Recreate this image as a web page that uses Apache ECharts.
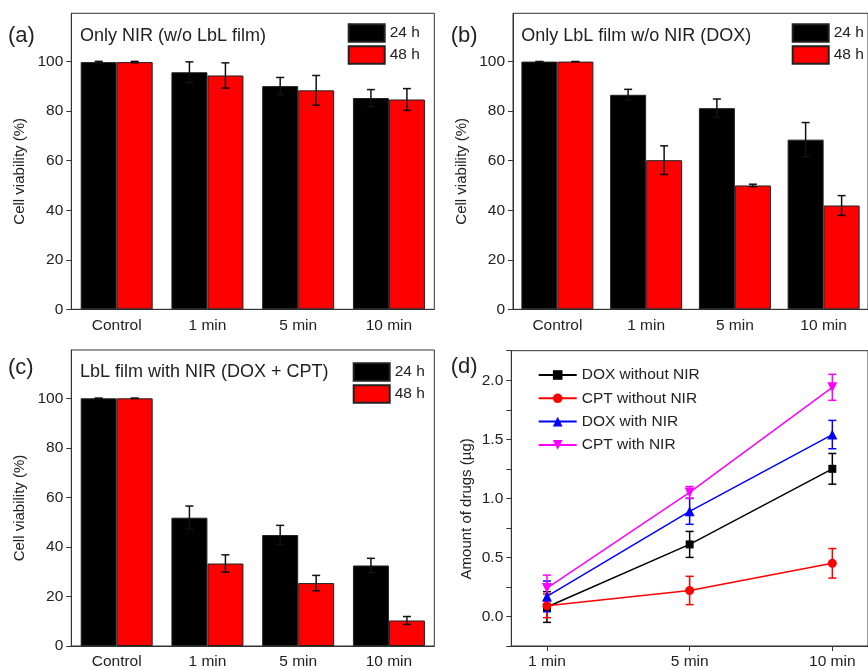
<!DOCTYPE html>
<html>
<head>
<meta charset="utf-8">
<script src="https://cdn.jsdelivr.net/npm/echarts@6/dist/echarts.min.js"></script>
<style>
  html, body { margin: 0; padding: 0; background: #fff; }
  #main { width: 868px; height: 670px; }
</style>
</head>
<body>
<div id="main"></div>
<script>
// ---- data ----
const categories = ['Control', '1 min', '5 min', '10 min'];
const yTicks = [0, 20, 40, 60, 80, 100];

// (a) only NIR
const a24 = [99.8, 95.7, 90.1, 85.3];
const a24Err = [0.3, 4.2, 3.5, 3.4];
const a48 = [99.8, 94.4, 88.4, 84.7];
const a48Err = [0.3, 5.1, 6.0, 4.4];

// (b) only LbL film
const b24 = [100, 86.6, 81.2, 68.5];
const b24Err = [0, 2.2, 3.7, 6.9];
const b48 = [100, 60.2, 50.0, 41.9];
const b48Err = [0, 5.8, 0.5, 4.0];

// (c) LbL film + NIR
const c24 = [100, 51.8, 44.8, 32.5];
const c24Err = [0, 4.7, 3.9, 2.9];
const c48 = [100, 33.3, 25.4, 10.3];
const c48Err = [0, 3.5, 3.1, 1.6];

// (d) drug release
const times = ['1 min', '5 min', '10 min'];
const doxNo = [0.08, 0.61, 1.25];
const doxNoErr = [0.13, 0.11, 0.13];
const cptNo = [0.09, 0.22, 0.45];
const cptNoErr = [0.10, 0.12, 0.125];
const doxNir = [0.17, 0.89, 1.54];
const doxNirErr = [0.13, 0.11, 0.12];
const cptNir = [0.24, 1.05, 1.94];
const cptNirErr = [0.11, 0.05, 0.11];

const FONT = "'Liberation Sans', Arial, sans-serif";
const AX = '#333';
const TXT = '#222';

let chart = echarts.init(document.getElementById('main'));

function errBar(color, offset) {
  return function (params, api) {
    let x = api.value(0), m = api.value(1), e = api.value(2);
    let hi = api.coord([x, m + e]);
    let lo = api.coord([x, m - e]);
    let cx = hi[0] + offset;
    let w = 4;
    let style = { stroke: color, lineWidth: 1.5 };
    return {
      type: 'group',
      children: [
        { type: 'line', shape: { x1: cx, y1: hi[1], x2: cx, y2: lo[1] }, style: style },
        { type: 'line', shape: { x1: cx - w, y1: hi[1], x2: cx + w, y2: hi[1] }, style: style },
        { type: 'line', shape: { x1: cx - w, y1: lo[1], x2: cx + w, y2: lo[1] }, style: style }
      ]
    };
  };
}

function triples(xs, vals, errs) {
  return vals.map((v, i) => [xs[i], v, errs[i]]);
}

function barX(gi) {
  return {
    type: 'category', gridIndex: gi, data: categories, boundaryGap: true,
    axisLine: { lineStyle: { color: AX, width: 1 } },
    axisTick: { alignWithLabel: true, length: 5, lineStyle: { color: AX } },
    axisLabel: { color: TXT, fontSize: 15.5, fontFamily: FONT, margin: 8 },
    splitLine: { show: false }
  };
}

function barY(gi) {
  return {
    type: 'value', gridIndex: gi, min: 0, max: 119.5,
    name: 'Cell viability (%)', nameLocation: 'middle', nameGap: 44,
    nameTextStyle: { color: TXT, fontSize: 15, fontFamily: FONT, padding: [0, 20, 0, 0] },
    axisLine: { show: true, lineStyle: { color: AX, width: 1 } },
    axisTick: { show: true, length: 5, lineStyle: { color: AX }, customValues: yTicks },
    axisLabel: { color: TXT, fontSize: 15.5, fontFamily: FONT, margin: 8, customValues: yTicks },
    splitLine: { show: false }
  };
}

function barSeries(gi, v24, e24, v48, e48) {
  let idx = categories.map((c, i) => i);
  return [
    { name: '24 h', type: 'bar', xAxisIndex: gi, yAxisIndex: gi, data: v24, barWidth: 36, barGap: '0%',
      itemStyle: { color: '#000', borderColor: '#222', borderWidth: 1 } },
    { name: '48 h', type: 'bar', xAxisIndex: gi, yAxisIndex: gi, data: v48, barWidth: 36, barGap: '0%',
      itemStyle: { color: '#ff0000', borderColor: '#222', borderWidth: 1 } },
    { type: 'custom', xAxisIndex: gi, yAxisIndex: gi, z: 5, renderItem: errBar('#111', -18),
      data: triples(idx, v24, e24) },
    { type: 'custom', xAxisIndex: gi, yAxisIndex: gi, z: 5, renderItem: errBar('#111', 18),
      data: triples(idx, v48, e48) }
  ];
}

function barLegend(left, top) {
  return {
    data: ['24 h', '48 h'], orient: 'vertical', left: left, top: top, padding: 0,
    itemWidth: 36, itemHeight: 17.5, itemGap: 2.5, icon: 'rect', selectedMode: false,
    textStyle: { color: TXT, fontSize: 15.5, fontFamily: FONT }
  };
}

const dX = [1, 2, 3];
const lineDefs = [
  { name: 'DOX without NIR', color: '#000000', vals: doxNo, errs: doxNoErr, symbol: 'rect', size: 8 },
  { name: 'CPT without NIR', color: '#ff0000', vals: cptNo, errs: cptNoErr, symbol: 'circle', size: 9 },
  { name: 'DOX with NIR', color: '#0000ff', vals: doxNir, errs: doxNirErr, symbol: 'triangle', size: 10 },
  { name: 'CPT with NIR', color: '#ff00ff', vals: cptNir, errs: cptNirErr, symbol: 'path://M0,0 L10,0 L5,9 Z', size: 10 }
];

let dSeries = [];
lineDefs.forEach(function (d) {
  dSeries.push({
    name: d.name, type: 'line', xAxisIndex: 3, yAxisIndex: 3,
    data: d.vals.map((v, i) => [dX[i], v]),
    symbol: d.symbol, symbolSize: d.size, showSymbol: true,
    lineStyle: { color: d.color, width: 1.5 },
    itemStyle: { color: d.color }
  });
  dSeries.push({
    type: 'custom', xAxisIndex: 3, yAxisIndex: 3, z: 3,
    renderItem: errBar(d.color, 0),
    data: triples(dX, d.vals, d.errs)
  });
});

function panelText(x, y, text, size) {
  return {
    type: 'text', x: x, y: y,
    style: { text: text, fill: TXT, font: size + 'px ' + FONT, textVerticalAlign: 'middle' }
  };
}

let me = {};
me.option = {
  animation: false,
  backgroundColor: '#fff',
  grid: [
    { left: 71.3, top: 13.3, width: 363, height: 296, show: true, borderColor: AX, borderWidth: 1 },
    { left: 513, top: 13.3, width: 363, height: 296, show: true, borderColor: AX, borderWidth: 1 },
    { left: 71.3, top: 350, width: 363, height: 296.7, show: true, borderColor: AX, borderWidth: 1 },
    { left: 511.3, top: 350.7, width: 364.3, height: 296, show: true, borderColor: AX, borderWidth: 1 }
  ],
  xAxis: [
    barX(0), barX(1), barX(2),
    {
      type: 'value', gridIndex: 3, min: 0.75, max: 3.25,
      axisLine: { onZero: false, lineStyle: { color: AX, width: 1 } },
      axisTick: { show: true, length: 5, lineStyle: { color: AX }, customValues: dX },
      axisLabel: {
        color: TXT, fontSize: 15.5, fontFamily: FONT, margin: 8, customValues: dX,
        formatter: function (v) { return times[Math.round(v) - 1]; }
      },
      splitLine: { show: false }
    }
  ],
  yAxis: [
    barY(0), barY(1), barY(2),
    {
      type: 'value', gridIndex: 3, min: -0.25, max: 2.25, interval: 0.25,
      name: 'Amount of drugs (\u00b5g)', nameLocation: 'middle', nameGap: 37,
      nameTextStyle: { color: TXT, fontSize: 15, fontFamily: FONT, padding: [0, 21, 0, 0] },
      axisLine: { show: true, onZero: false, lineStyle: { color: AX, width: 1 } },
      axisTick: { show: true, length: 5, lineStyle: { color: AX } },
      axisLabel: {
        color: TXT, fontSize: 15.5, fontFamily: FONT, margin: 8,
        formatter: function (v) {
          let k = Math.round(v * 4);
          if (k % 2 !== 0 || v < 0 || v > 2.01) return '';
          return v.toFixed(1);
        }
      },
      splitLine: { show: false }
    }
  ],
  legend: [
    barLegend(347.7, 23.3),
    barLegend(791.7, 23.3),
    barLegend(352.7, 362.3),
    {
      data: lineDefs.map(d => d.name), orient: 'vertical', left: 537.7, top: 367, padding: 0,
      itemWidth: 38, itemHeight: 12, itemGap: 7.3, selectedMode: false,
      textStyle: { color: TXT, fontSize: 15.5, fontFamily: FONT }
    }
  ],
  graphic: [
    panelText(8, 36, '(a)', 22),
    panelText(450.7, 36, '(b)', 22),
    panelText(8, 368, '(c)', 22),
    panelText(450.7, 367, '(d)', 22),
    panelText(80, 36, 'Only NIR (w/o LbL film)', 18),
    panelText(521.3, 36, 'Only LbL film w/o NIR (DOX)', 18),
    panelText(80, 371.7, 'LbL film with NIR (DOX + CPT)', 18)
  ],
  series: [].concat(
    barSeries(0, a24, a24Err, a48, a48Err),
    barSeries(1, b24, b24Err, b48, b48Err),
    barSeries(2, c24, c24Err, c48, c48Err),
    dSeries
  )
};
chart.setOption(me.option);
</script>
</body>
</html>
